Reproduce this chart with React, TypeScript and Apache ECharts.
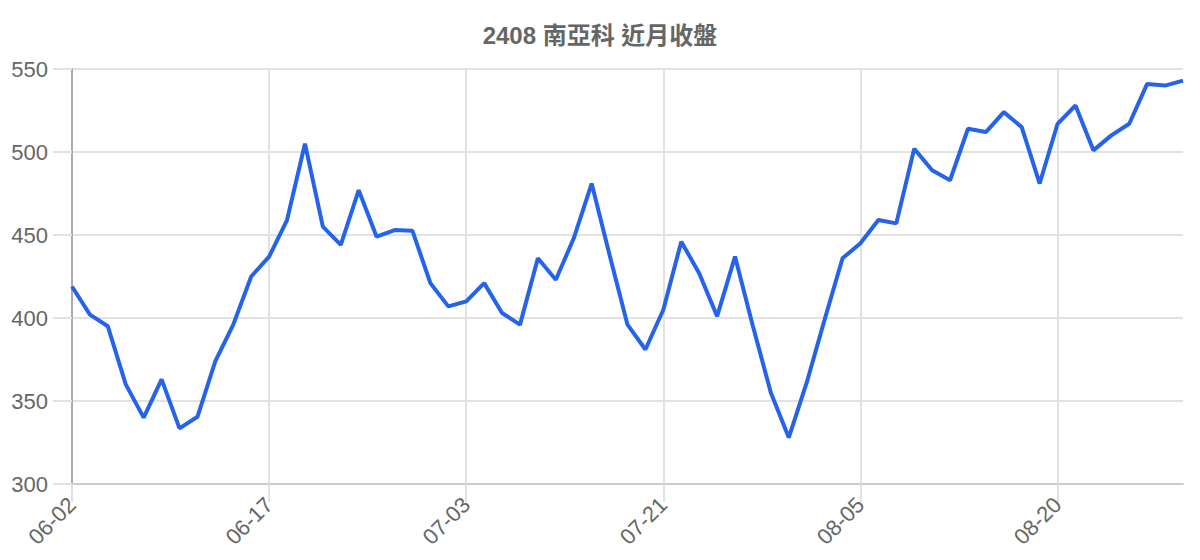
import React, { useEffect, useRef } from "react";
import * as echarts from "echarts";

const TITLE = "2408 南亞科 近月收盤";

const dates: string[] = [
  "06-02", "06-03", "06-04", "06-05", "06-06", "06-09", "06-10", "06-11", "06-12", "06-13",
  "06-16", "06-17", "06-18", "06-19", "06-20", "06-23", "06-24", "06-25", "06-26", "06-30",
  "07-01", "07-02", "07-03", "07-04", "07-07", "07-08", "07-09", "07-10", "07-14", "07-15",
  "07-16", "07-17", "07-18", "07-21", "07-22", "07-23", "07-24", "07-25", "07-28", "07-29",
  "07-30", "07-31", "08-01", "08-04", "08-05", "08-06", "08-07", "08-08", "08-11", "08-12",
  "08-13", "08-14", "08-15", "08-18", "08-19", "08-20", "08-21", "08-22", "08-25", "08-26",
  "08-27", "08-28", "08-29",
];

const closes: number[] = [
  419, 402, 395, 360, 340, 363, 333.5, 340.5, 374, 396,
  425, 437, 459, 505, 455, 444, 477, 449, 453, 452.5,
  421, 407, 410, 421, 403, 396, 436, 423, 448, 481,
  438, 396, 381, 405, 446, 427, 401, 437, 395, 355,
  328, 361, 399, 436, 445, 459, 457, 502, 489, 483,
  514, 512, 524, 515, 481, 517, 528, 501, 510, 517,
  541, 540, 543,
];

const yMin = 300;
const yMax = 550;
const yStep = 50;

const FONT = "'Liberation Sans', Arial, 'Noto Sans CJK TC', sans-serif";

export default function App() {
  const ref = useRef<HTMLDivElement>(null);

  useEffect(() => {
    if (!ref.current) return;
    const chart = echarts.init(ref.current, undefined, { renderer: "svg" });
    chart.setOption({
      animation: false,
      backgroundColor: "#ffffff",
      title: {
        text: TITLE,
        left: "center",
        top: 18,
        textStyle: {
          fontSize: 24,
          fontWeight: "bold",
          color: "#666666",
          fontFamily: FONT,
        },
      },
      grid: {
        left: 72,
        right: 17,
        top: 69,
        bottom: 76,
        outerBoundsMode: "none",
      },
      xAxis: {
        type: "category",
        data: dates,
        boundaryGap: false,
        axisLine: { show: true, lineStyle: { color: "#cccccc", width: 2 } },
        axisTick: {
          show: true,
          interval: 10,
          length: 18,
          lineStyle: { color: "#e2e2e2", width: 2 },
        },
        splitLine: {
          show: true,
          interval: 10,
          lineStyle: { color: "#e2e2e2", width: 2 },
        },
        axisLabel: {
          interval: 10,
          rotate: 45,
          margin: 17,
          fontSize: 22,
          color: "#666666",
          fontFamily: FONT,
        },
      },
      yAxis: {
        type: "value",
        min: yMin,
        max: yMax,
        interval: yStep,
        axisLine: { show: true, lineStyle: { color: "#aaaaaa", width: 2 } },
        axisTick: {
          show: true,
          length: 19,
          lineStyle: { color: "#e2e2e2", width: 2 },
        },
        splitLine: { show: true, lineStyle: { color: "#e2e2e2", width: 2 } },
        axisLabel: {
          margin: 24,
          fontSize: 22,
          color: "#666666",
          fontFamily: FONT,
        },
      },
      series: [
        {
          type: "line",
          data: closes,
          showSymbol: false,
          symbol: "none",
          lineStyle: { color: "#2563eb", width: 4 },
          itemStyle: { color: "#2563eb" },
          z: 5,
        },
      ],
    });
    return () => chart.dispose();
  }, []);

  return (
    <div
      ref={ref}
      style={{ position: "fixed", left: 0, top: 0, width: 1200, height: 560 }}
    />
  );
}
